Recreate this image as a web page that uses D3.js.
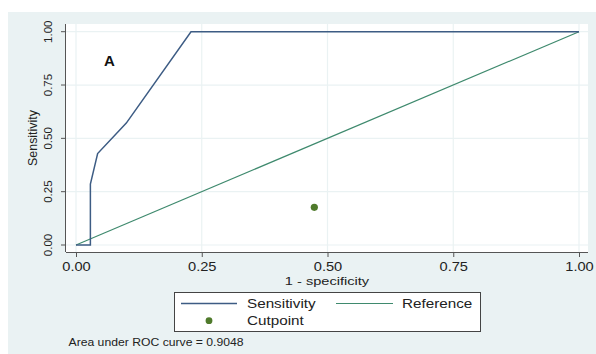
<!DOCTYPE html>
<html><head><meta charset="utf-8">
<script src="https://cdn.jsdelivr.net/npm/d3@7"></script>
<style>html,body{margin:0;padding:0;background:#fff;}svg{display:block;font-family:"Liberation Sans",Arial,sans-serif;}</style>
</head><body>
<svg id="c" width="596" height="354"></svg>
<script>
// ROC curve data (1 - specificity, sensitivity)
const fpr = [0, 0.0286, 0.0286, 0.043, 0.1, 0.2286, 1];
const sens = [0, 0, 0.2857, 0.4286, 0.5714, 1, 1];
const refX = [0, 1];
const refY = [0, 1];
const cutpoint = [0.4738, 0.1767];
const ticks = [0, 0.25, 0.5, 0.75, 1];
const tickLabels = ["0.00", "0.25", "0.50", "0.75", "1.00"];
const legendLabels = ["Sensitivity", "Reference", "Cutpoint"];
const aucText = "Area under ROC curve = 0.9048";

const svg = d3.select("#c");
const bg = "#eaf2f3";
const ff = "Liberation Sans, Arial, sans-serif";
const SX = 1.22; // horizontal stretch of the source image's text

// helper: horizontally stretched text
function stext(px, py, str, size, anchor, sx) {
  return svg.append("text")
    .attr("transform", `translate(${px},${py}) scale(${sx || SX},1)`)
    .attr("text-anchor", anchor || "start")
    .attr("font-size", size).attr("fill", "#222").text(str);
}

svg.append("rect").attr("x", 8).attr("y", 12).attr("width", 588).attr("height", 342).attr("fill", bg);

const x = d3.scaleLinear().domain([0, 1]).range([76, 579]);
const y = d3.scaleLinear().domain([0, 1]).range([245, 31.7]);

// plot region
svg.append("rect").attr("x", 66).attr("y", 24).attr("width", 522).attr("height", 228).attr("fill", "#fff");

// gridlines
const grid = svg.append("g").attr("stroke", bg).attr("stroke-width", 1.2);
ticks.forEach(t => {
  grid.append("line").attr("x1", x(t)).attr("x2", x(t)).attr("y1", 24).attr("y2", 252);
  grid.append("line").attr("y1", y(t)).attr("y2", y(t)).attr("x1", 66).attr("x2", 588);
});

// axes
const xAxis = d3.axisBottom(x).tickValues(ticks).tickFormat((d, i) => tickLabels[i]).tickSize(5).tickPadding(5).tickSizeOuter(0);
const gx = svg.append("g").attr("transform", "translate(0,252)").call(xAxis);
gx.select(".domain").attr("d", "M66,0.5H588").attr("stroke", "#555");
gx.selectAll(".tick line").attr("stroke", "#555");
gx.selectAll(".tick text").attr("font-size", 12).attr("fill", "#222").attr("font-family", ff)
  .attr("dy", null).attr("y", 19).attr("transform", `scale(${SX},1)`);

const yAxis = d3.axisLeft(y).tickValues(ticks).tickFormat((d, i) => tickLabels[i]).tickSize(5).tickPadding(3).tickSizeOuter(0);
const gy = svg.append("g").attr("transform", "translate(66,0)").call(yAxis);
gy.select(".domain").attr("d", "M-0.5,24V252").attr("stroke", "#555");
gy.selectAll(".tick").attr("transform", "translate(0,0)");
gy.selectAll(".tick line").attr("stroke", "#555").each(function(d){ d3.select(this).attr("y1", y(d)).attr("y2", y(d)); });
gy.selectAll(".tick text")
  .attr("font-size", 11.5).attr("fill", "#222").attr("font-family", ff)
  .attr("text-anchor", "middle").attr("dy", null).attr("dominant-baseline", "middle")
  .attr("transform", "rotate(-90)")
  .each(function(d) { d3.select(this).attr("x", -y(d)).attr("y", -17); });

// axis titles
stext(327, 284.5, "1 - specificity", 11.5, "middle", 1.27);
svg.append("text").attr("transform", "translate(36.5,138) rotate(-90)").attr("text-anchor", "middle").attr("font-size", 12.4).attr("fill", "#222").text("Sensitivity");

// reference line
const line = d3.line().x(d => x(d[0])).y(d => y(d[1]));
svg.append("path").datum(refX.map((v, i) => [v, refY[i]])).attr("d", line)
  .attr("fill", "none").attr("stroke", "#3f8a6e").attr("stroke-width", 1.2);
// sensitivity curve
svg.append("path").datum(fpr.map((v, i) => [v, sens[i]])).attr("d", line)
  .attr("fill", "none").attr("stroke", "#3d5c84").attr("stroke-width", 1.5);
// cutpoint
svg.append("circle").attr("cx", x(cutpoint[0])).attr("cy", y(cutpoint[1])).attr("r", 3.6).attr("fill", "#4f7a2b");

// panel label
svg.append("text").attr("x", 109.5).attr("y", 65.7).attr("text-anchor", "middle").attr("font-size", 15).attr("font-weight", "bold").attr("fill", "#111").text("A");

// legend
const lg = svg.append("g");
lg.append("rect").attr("x", 174.5).attr("y", 292.5).attr("width", 306).attr("height", 39).attr("fill", "#fff").attr("stroke", "#444").attr("stroke-width", 1);
lg.append("line").attr("x1", 181).attr("x2", 237).attr("y1", 303.5).attr("y2", 303.5).attr("stroke", "#3d5c84").attr("stroke-width", 1.5);
lg.append("line").attr("x1", 336).attr("x2", 393).attr("y1", 303.5).attr("y2", 303.5).attr("stroke", "#3f8a6e").attr("stroke-width", 1.2);
lg.append("circle").attr("cx", 209).attr("cy", 320.7).attr("r", 3.4).attr("fill", "#4f7a2b");
stext(247, 308, legendLabels[0], 12.5);
stext(402, 308, legendLabels[1], 12.5);
stext(247, 325.2, legendLabels[2], 12.5);

// AUC note
stext(68.5, 346.3, aucText, 10);
</script>
</body></html>
